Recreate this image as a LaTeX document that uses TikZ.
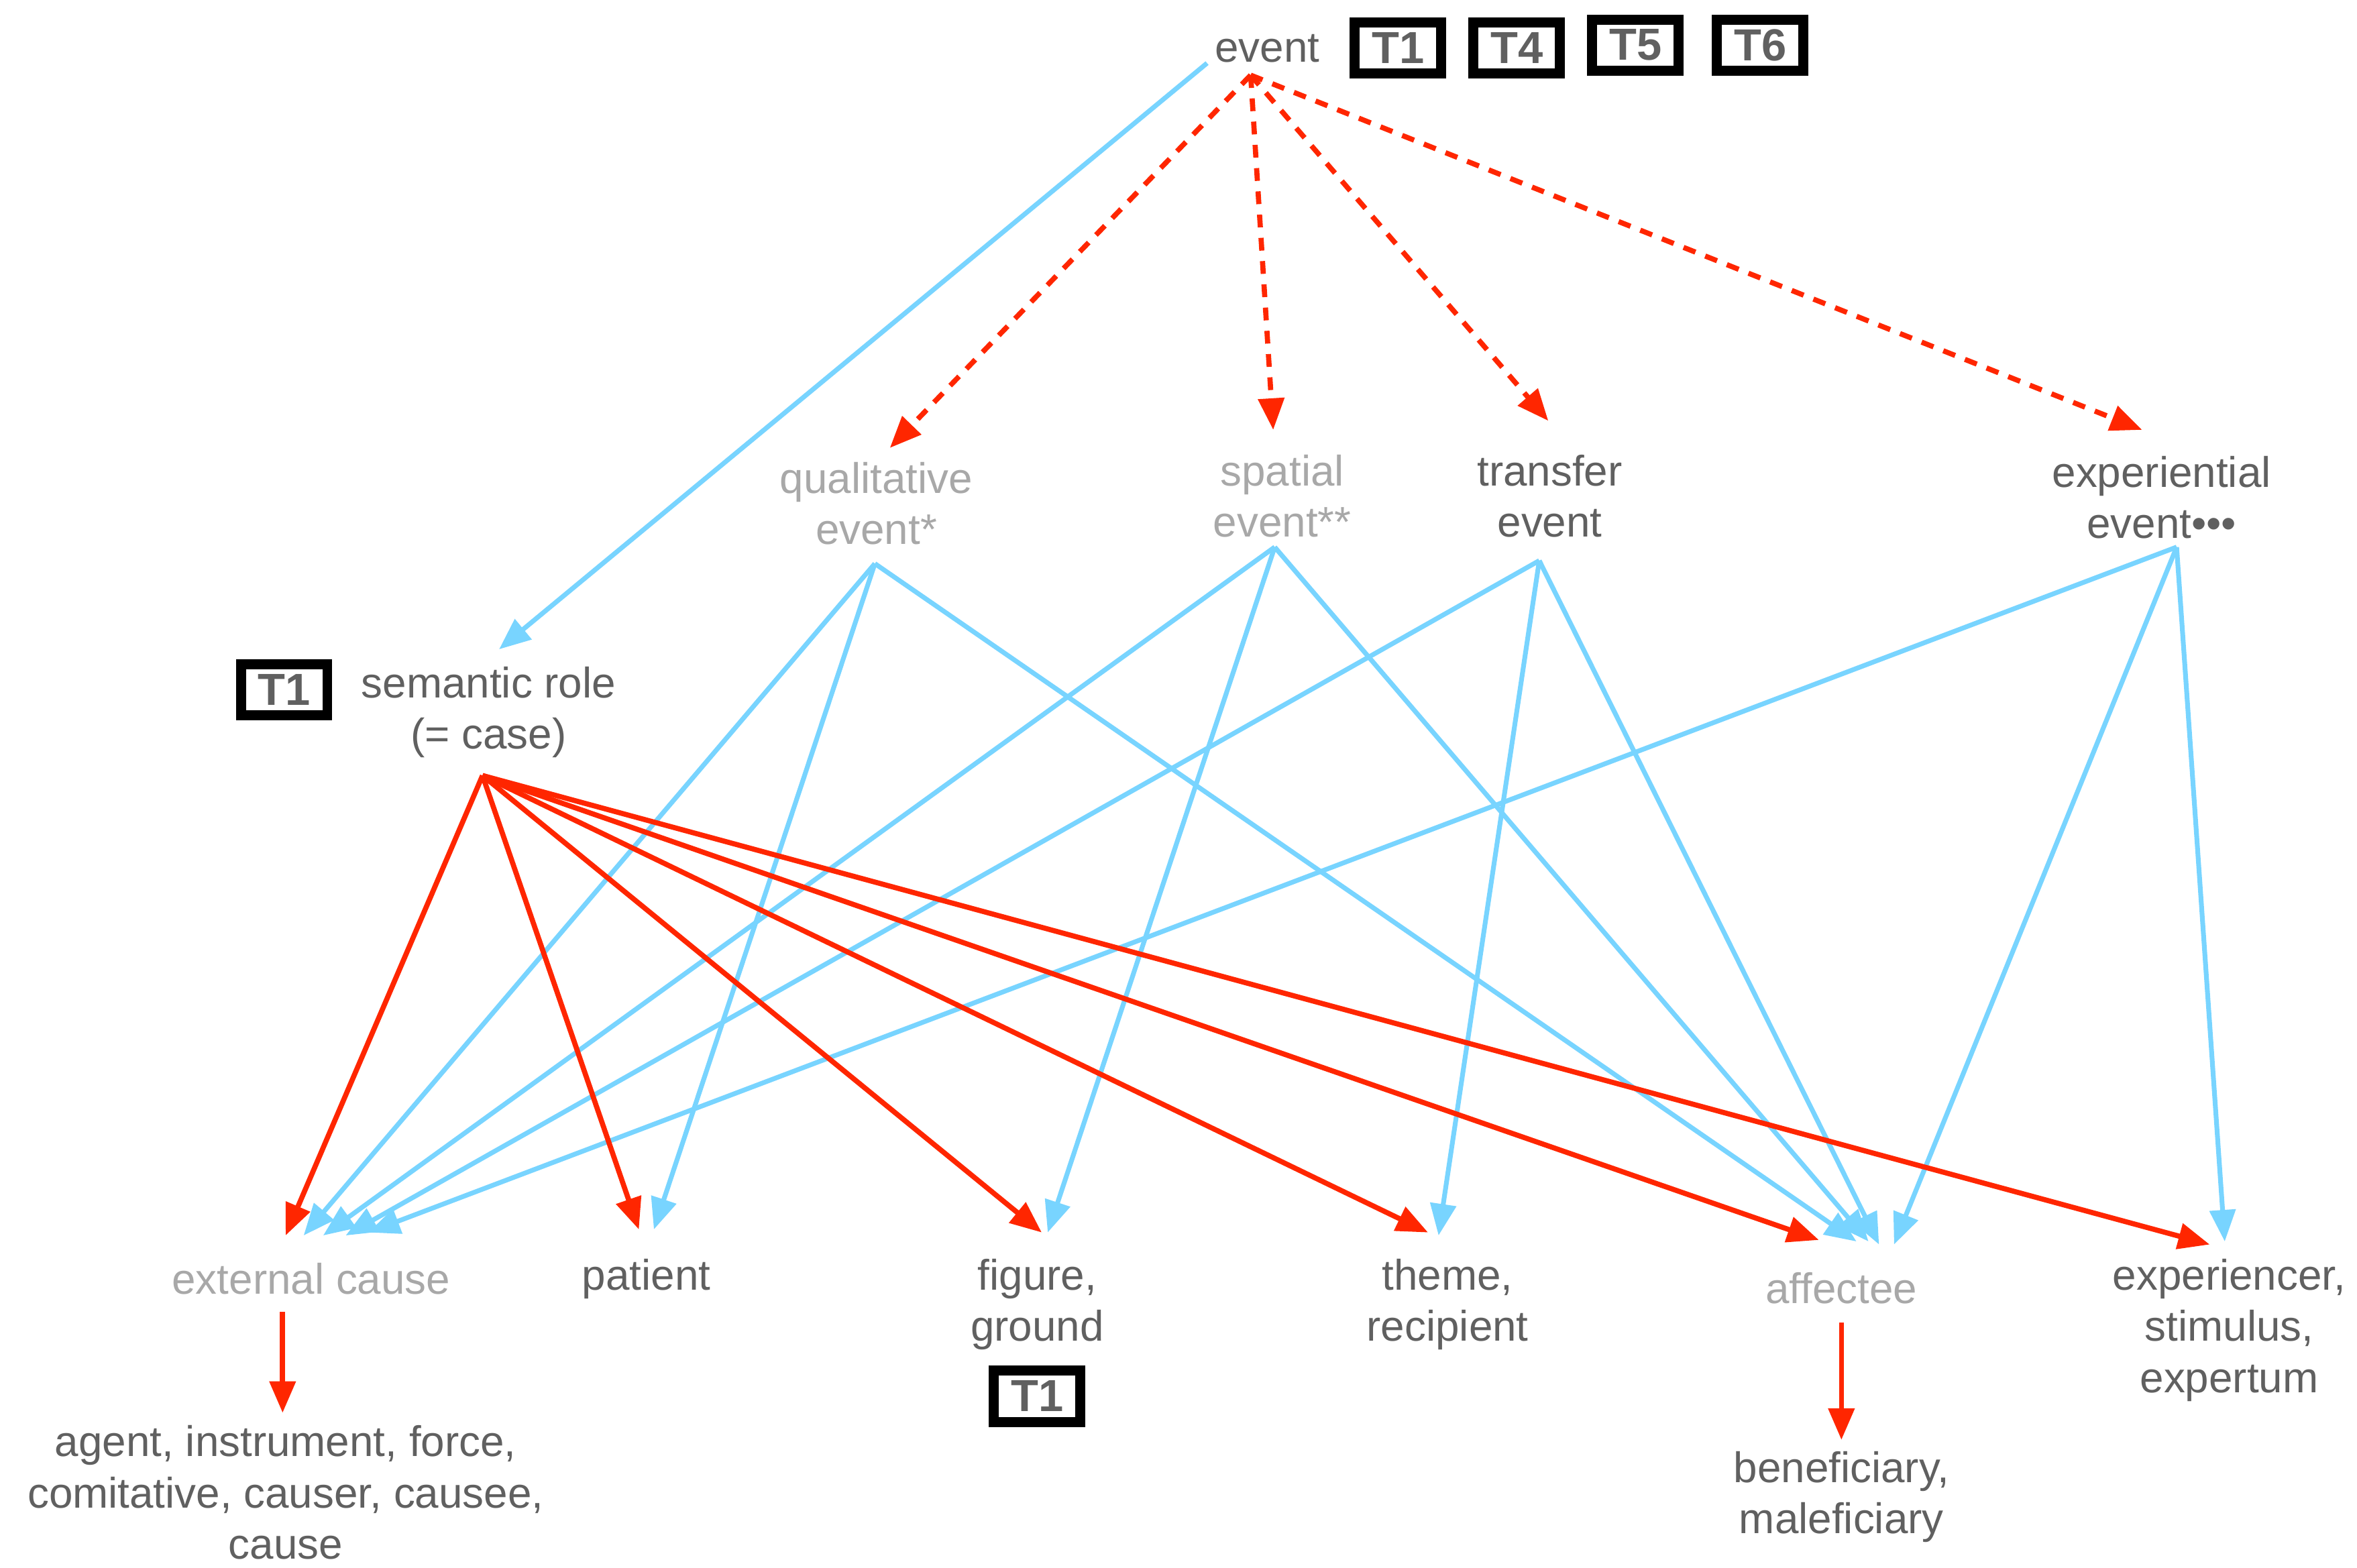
\documentclass[tikz,border=0pt]{standalone}
\usepackage{fontspec}
\setmainfont{Liberation Sans}
\usetikzlibrary{arrows.meta,calc}
\definecolor{txtdark}{HTML}{606060}
\definecolor{txtlight}{HTML}{A8A8A8}
\definecolor{blueline}{HTML}{78D4FF}
\definecolor{redline}{HTML}{FF2600}
\begin{document}
\begin{tikzpicture}[x=0.02cm,y=-0.02cm,
  lbl/.style={font=\fontsize{16.2}{19.4}\selectfont, text=txtdark, align=center, inner sep=0pt},
  lbllight/.style={lbl, text=txtlight},
  tbox/.style={draw=black, line width=3.8pt, minimum width=1.15cm, minimum height=0.68cm,
    font=\fontsize{17}{19.4}\selectfont\bfseries, text=txtdark, inner sep=0pt},
  bl/.style={draw=blueline, line width=1.8pt, -{Triangle[length=0.42cm,width=0.34cm]}},
  rd/.style={draw=redline, line width=1.95pt, -{Triangle[length=0.42cm,width=0.34cm]}},
  rdd/.style={rd, dash pattern=on 0.17cm off 0.14cm}]
\useasboundingbox (0,0) rectangle (1568,1043);

% nodes
\node[lbl] (event) at (843,32) {event};
\node[tbox] (t1a) at (930,32) {T1};
\node[tbox] (t4) at (1009,32) {T4};
\node[tbox] (t5) at (1088,30) {T5};
\node[tbox] (t6) at (1171,30) {T6};

\node[lbllight] (qual) at (583,335) {qualitative\\event*};
\node[lbllight] (spat) at (853,330) {spatial\\event**};
\node[lbl] (trans) at (1031,330) {transfer\\event};
\node[lbl] (exper) at (1438,331) {experiential\\event•••};

\node[lbl] (sem) at (325,474) {semantic role\\(= case)};
\node[tbox] (t1b) at (189,459) {T1};

\node[lbllight] (ext) at (207,851) {external cause};
\node[lbl] (pat) at (430,851) {patient};
\node[lbl] (fig) at (690,868) {figure,\\ground};
\node[tbox] (t1c) at (690,929) {T1};
\node[lbl] (theme) at (963,868) {theme,\\recipient};
\node[lbllight] (aff) at (1225,857) {affectee};
\node[lbl] (expr) at (1483,885) {experiencer,\\stimulus,\\expertum};

\node[lbl] (agent) at (190,993) {agent, instrument, force,\\comitative, causer, causee,\\cause};
\node[lbl] (bene) at (1225,996) {beneficiary,\\maleficiary};

% event -> semantic role
\draw[bl] ($(event)+(-40,10)$) -- ($(sem)+(7,-42)$);

% event -> subtypes (dashed red)
\draw[rdd] ($(event)+(-11,18)$) -- ($(qual)+(9,-37)$);
\draw[rdd] ($(event)+(-11,18)$) -- ($(spat)+(-6,-44)$);
\draw[rdd] ($(event)+(-11,18)$) -- ($(trans)+(-1,-50)$);
\draw[rdd] ($(event)+(-11,18)$) -- ($(exper)+(-13,-45)$);

% blue: event subtypes -> roles
\draw[bl] ($(qual)+(-1,40)$) -- ($(ext)+(-5,-29)$);
\draw[bl] ($(qual)+(-1,40)$) -- ($(pat)+(5,-33)$);
\draw[bl] ($(qual)+(-1,40)$) -- ($(aff)+(10,-31)$);

\draw[bl] ($(spat)+(-5,34)$) -- ($(ext)+(8,-29)$);
\draw[bl] ($(spat)+(-5,34)$) -- ($(fig)+(7,-48)$);
\draw[bl] ($(spat)+(-5,34)$) -- ($(aff)+(18,-31)$);

\draw[bl] ($(trans)+(-7,43)$) -- ($(ext)+(23,-29)$);
\draw[bl] ($(trans)+(-7,43)$) -- ($(theme)+(-6,-46)$);
\draw[bl] ($(trans)+(-7,43)$) -- ($(aff)+(25,-29)$);

\draw[bl] ($(exper)+(10,33)$) -- ($(ext)+(38,-31)$);
\draw[bl] ($(exper)+(10,33)$) -- ($(aff)+(35,-29)$);
\draw[bl] ($(exper)+(10,33)$) -- ($(expr)+(-3,-59)$);

% red: semantic role -> roles
\draw[rd] ($(sem)+(-4,42)$) -- ($(ext)+(-17,-29)$);
\draw[rd] ($(sem)+(-4,42)$) -- ($(pat)+(-5,-33)$);
\draw[rd] ($(sem)+(-4,42)$) -- ($(fig)+(3,-48)$);
\draw[rd] ($(sem)+(-4,42)$) -- ($(theme)+(-13,-48)$);
\draw[rd] ($(sem)+(-4,42)$) -- ($(aff)+(-15,-32)$);
\draw[rd] ($(sem)+(-4,42)$) -- ($(expr)+(-13,-57)$);

% red: subroles
\draw[rd] ($(ext)+(-19,22)$) -- ($(agent)+(-2,-53)$);
\draw[rd] ($(aff)+(0,23)$) -- ($(bene)+(0,-38)$);
\end{tikzpicture}
\end{document}
